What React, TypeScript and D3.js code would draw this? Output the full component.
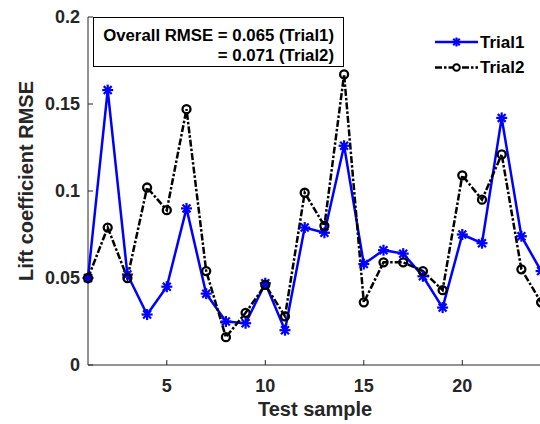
import React from "react";
import * as d3 from "d3";

const samples = d3.range(1, 25);
const trial1 = [0.05, 0.158, 0.052, 0.029, 0.045, 0.09, 0.041, 0.025, 0.024, 0.047, 0.02, 0.079, 0.076, 0.126, 0.058, 0.066, 0.064, 0.051, 0.033, 0.075, 0.07, 0.142, 0.074, 0.054];
const trial2 = [0.05, 0.079, 0.05, 0.102, 0.089, 0.147, 0.054, 0.016, 0.03, 0.046, 0.028, 0.099, 0.08, 0.167, 0.036, 0.059, 0.059, 0.054, 0.043, 0.109, 0.095, 0.121, 0.055, 0.036];
const xTicks = [5, 10, 15, 20];
const yTicks = [0, 0.05, 0.1, 0.15, 0.2];
const yTickLabels = ["0", "0.05", "0.1", "0.15", "0.2"];
const seriesNames = ["Trial1", "Trial2"];
const annotation = ["Overall RMSE = 0.065 (Trial1)", "= 0.071 (Trial2)"];

const W = 540, H = 424;
const left = 88, bottom = 365, top = 17;
const x = d3.scaleLinear().domain([1, 24]).range([left, left + 23 * 19.7]);
const y = d3.scaleLinear().domain([0, 0.2]).range([bottom, top]);
const font = "'Liberation Sans', Arial, sans-serif";
const axisColor = "#262626";
const dash = "7,2,2.5,2";

function Star({ cx, cy, s = 5.5, color }: { cx: number; cy: number; s?: number; color: string }) {
  const d = 0.72 * s;
  return (
    <g stroke={color} strokeWidth={2.2}>
      <line x1={cx - s} y1={cy} x2={cx + s} y2={cy} />
      <line x1={cx} y1={cy - s} x2={cx} y2={cy + s} />
      <line x1={cx - d} y1={cy - d} x2={cx + d} y2={cy + d} />
      <line x1={cx - d} y1={cy + d} x2={cx + d} y2={cy - d} />
    </g>
  );
}

export default function App() {
  const line = d3.line<number>().x((_, i) => x(samples[i])).y((d) => y(d));
  const xEnd = x(24);
  return (
    <svg width={W} height={H} style={{ position: "absolute", left: 0, top: 0, background: "#fff" }} fontFamily={font}>
      <rect width={W} height={H} fill="#fff" />
      {/* axes */}
      <line x1={left} y1={top} x2={left} y2={bottom} stroke={axisColor} strokeWidth={1} />
      <line x1={left} y1={bottom} x2={xEnd} y2={bottom} stroke={axisColor} strokeWidth={1} />
      {yTicks.map((t, i) => (
        <g key={"y" + i}>
          <line x1={left} x2={left + 5} y1={y(t)} y2={y(t)} stroke={axisColor} />
          <text x={left - 8} y={y(t)} dy="0.35em" textAnchor="end" fontSize={18} fontWeight="bold" fill={axisColor}>
            {yTickLabels[i]}
          </text>
        </g>
      ))}
      {xTicks.map((t) => (
        <g key={"x" + t}>
          <line x1={x(t)} x2={x(t)} y1={bottom} y2={bottom - 5} stroke={axisColor} />
          <text x={x(t)} y={392} textAnchor="middle" fontSize={18} fontWeight="bold" fill={axisColor}>
            {t}
          </text>
        </g>
      ))}
      <text x={315} y={416} textAnchor="middle" fontSize={20} fontWeight="bold" fill={axisColor}>
        Test sample
      </text>
      <text transform={`translate(33,181) rotate(-90)`} textAnchor="middle" fontSize={20} fontWeight="bold" fill={axisColor}>
        Lift coefficient RMSE
      </text>

      {/* series */}
      <path d={line(trial1) || ""} fill="none" stroke="#0000ff" strokeWidth={2.5} />
      <path d={line(trial2) || ""} fill="none" stroke="#000" strokeWidth={2.5} strokeDasharray={dash} />
      {trial1.map((v, i) => (
        <Star key={"s" + i} cx={x(samples[i])} cy={y(v)} color="#0000ff" />
      ))}
      {trial2.map((v, i) => (
        <circle key={"c" + i} cx={x(samples[i])} cy={y(v)} r={4} fill="none" stroke="#000" strokeWidth={2.3} />
      ))}

      {/* annotation box */}
      <rect x={93.5} y={17.5} width={250} height={49} fill="#fff" stroke="#000" strokeWidth={1} />
      <text x={334} y={41} textAnchor="end" fontSize={16.8} fontWeight="bold" fill="#000">{annotation[0]}</text>
      <text x={334} y={61} textAnchor="end" fontSize={16.8} fontWeight="bold" fill="#000">{annotation[1]}</text>

      {/* legend */}
      <line x1={435} x2={478} y1={42} y2={42} stroke="#0000ff" strokeWidth={2.5} />
      <Star cx={456.5} cy={42} s={4.5} color="#0000ff" />
      <text x={480} y={42} dy="0.35em" fontSize={17} fontWeight="bold" fill="#000">{seriesNames[0]}</text>
      <line x1={435} x2={478} y1={67.5} y2={67.5} stroke="#000" strokeWidth={2.5} strokeDasharray={dash} />
      <circle cx={456.5} cy={67.5} r={3.3} fill="#fff" stroke="#000" strokeWidth={2} />
      <text x={480} y={67.5} dy="0.35em" fontSize={17} fontWeight="bold" fill="#000">{seriesNames[1]}</text>
    </svg>
  );
}
